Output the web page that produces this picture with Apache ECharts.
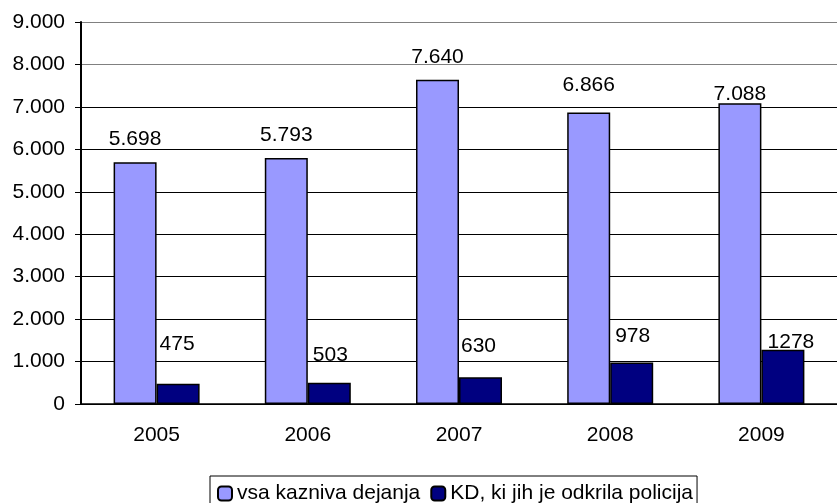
<!DOCTYPE html>
<html>
<head>
<meta charset="utf-8">
<script src="https://cdn.jsdelivr.net/npm/echarts@6/dist/echarts.min.js"></script>
<style>
  html, body { margin: 0; padding: 0; background: #fff; }
  #chart { width: 837px; height: 503px; }
</style>
</head>
<body>
<div id="chart"></div>
<script>
// data
const years = ['2005', '2006', '2007', '2008', '2009']
const allOffences = [5698, 5793, 7640, 6866, 7088]
const policeDetected = [475, 503, 630, 978, 1278]
const seriesNames = ['vsa kazniva dejanja', 'KD, ki jih je odkrila policija']

// label nudges (the labels were moved by hand in the original)
const lightLabelDy = [-12, -12, -12, -17, 2]
const darkLabelDy = [-29, -17, -21, -16, 3]
const darkLabelDx = [-1, 1, -2, 1, 8]

const font = 'Liberation Sans, Arial, sans-serif'
const fs = 21

const thousands = v => {
  if (v < 1000) return String(v)
  const s = String(v)
  return s.slice(0, s.length - 3) + '.' + s.slice(-3)
}

const chart = echarts.init(document.getElementById('chart'), null, { renderer: 'canvas' })

chart.setOption({
  animation: false,
  textStyle: { fontFamily: font, color: '#000' },
  grid: { left: 81, top: 22, width: 765, height: 382 },
  legend: {
    left: 210,
    top: 476,
    itemWidth: 14,
    itemHeight: 14,
    itemGap: 10,
    padding: [7, 4, 6, 7],
    borderColor: '#000',
    borderWidth: 1,
    textStyle: { fontSize: fs, fontFamily: font, color: '#000' },
    data: seriesNames
  },
  xAxis: {
    type: 'category',
    data: years,
    axisLine: { lineStyle: { color: '#000', width: 1.5 } },
    axisTick: { length: 7, lineStyle: { color: '#000' } },
    axisLabel: { fontSize: fs, margin: 21, color: '#000', fontFamily: font }
  },
  yAxis: {
    type: 'value',
    min: 0,
    max: 9000,
    interval: 1000,
    axisLine: { show: true, lineStyle: { color: '#000', width: 2 } },
    axisTick: { show: true, inside: false, length: 6, lineStyle: { color: '#000' } },
    axisLabel: { fontSize: fs, margin: 16, color: '#000', fontFamily: font, formatter: thousands },
    splitLine: {
      lineStyle: {
        width: 1,
        color: ['#000', '#000', '#000', '#000', '#000', '#000', '#000', '#000', '#808080', '#808080']
      }
    }
  },
  series: [
    {
      name: seriesNames[0],
      type: 'bar',
      barWidth: 43,
      barGap: '0%',
      itemStyle: { color: '#9999FF', borderColor: '#000', borderWidth: 1.5 },
      label: {
        show: true, position: 'top', distance: 0,
        fontSize: fs, color: '#000', fontFamily: font,
        formatter: p => thousands(p.value)
      },
      data: allOffences.map((v, i) => ({ value: v, label: { offset: [0, lightLabelDy[i]] } }))
    },
    {
      name: seriesNames[1],
      type: 'bar',
      barWidth: 43,
      barGap: '0%',
      itemStyle: { color: '#000080', borderColor: '#000', borderWidth: 1.5 },
      label: {
        show: true, position: 'top', distance: 0,
        fontSize: fs, color: '#000', fontFamily: font
      },
      data: policeDetected.map((v, i) => ({ value: v, label: { offset: [darkLabelDx[i], darkLabelDy[i]] } }))
    }
  ]
})
</script>
</body>
</html>
